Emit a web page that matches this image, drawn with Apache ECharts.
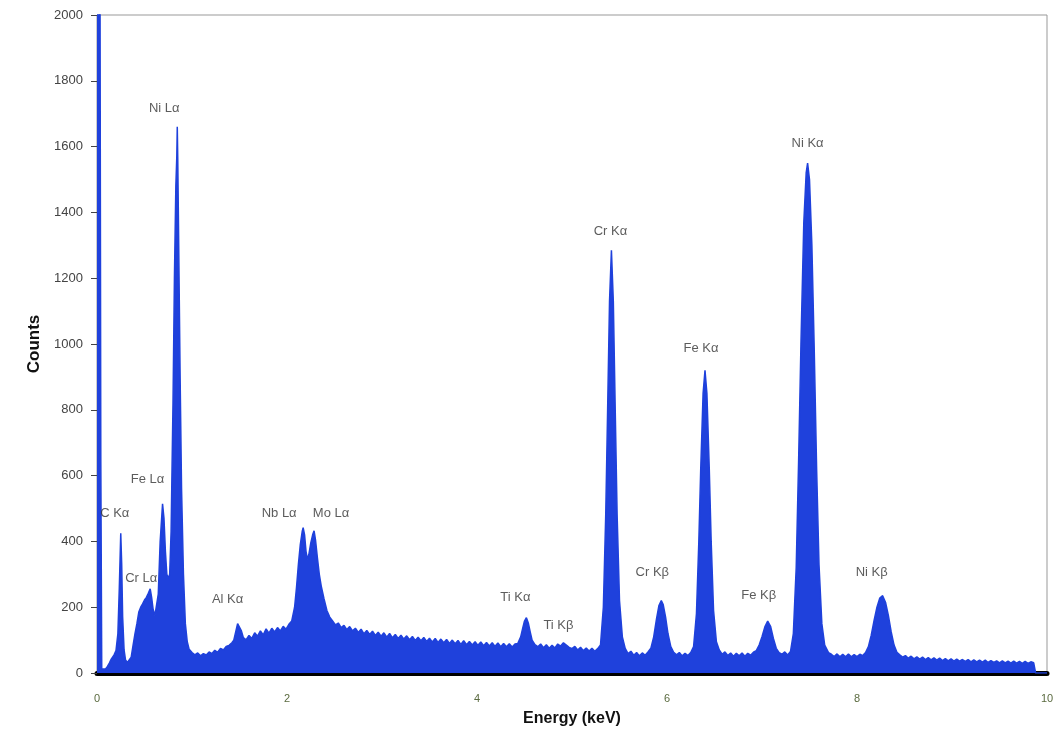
<!DOCTYPE html>
<html>
<head>
<meta charset="utf-8">
<script src="https://cdn.jsdelivr.net/npm/echarts@6/dist/echarts.min.js"></script>
<style>
html,body{margin:0;padding:0;background:#fff;}
#chart{width:1064px;height:733px;}
</style>
</head>
<body>
<div id="chart"></div>
<script>
// EDS spectrum: [energy keV, counts]
const spectrum = [
[0.00,2400],[0.03,2400],[0.04,650],[0.05,12],[0.07,6],[0.09,12],[0.11,20],[0.13,30],[0.15,42],[0.18,55],
[0.20,68],[0.22,120],[0.235,260],[0.25,425],[0.26,330],[0.27,170],[0.285,70],[0.30,40],[0.32,32],[0.34,38],
[0.36,48],[0.38,85],[0.40,120],[0.42,150],[0.44,185],[0.46,200],[0.48,210],[0.50,222],[0.52,230],[0.54,242],
[0.56,256],[0.575,230],[0.59,195],[0.61,175],[0.63,180],[0.645,240],[0.665,400],[0.69,514],[0.705,470],[0.72,370],
[0.735,300],[0.75,288],[0.765,300],[0.78,430],[0.80,820],[0.815,1200],[0.83,1480],[0.84,1570],[0.845,1660],[0.85,1565],
[0.86,1300],[0.875,900],[0.89,560],[0.91,300],[0.93,150],[0.95,95],[0.97,72],
[1.00,62],[1.03,55],[1.06,61],[1.09,52],[1.12,59],[1.15,55],[1.18,64],[1.21,59],[1.24,69],[1.27,63],
[1.30,75],[1.33,70],[1.36,81],[1.39,84],[1.42,92],[1.44,100],[1.46,125],[1.48,150],[1.50,145],[1.52,128],
[1.54,108],[1.57,101],[1.60,114],[1.63,105],[1.66,122],[1.69,112],[1.72,128],[1.75,116],[1.78,134],[1.81,121],
[1.84,136],[1.87,125],[1.90,138],[1.93,128],[1.96,142],[1.99,133],[2.02,148],[2.05,158],
[2.08,200],[2.10,260],[2.12,330],[2.14,390],[2.16,430],[2.17,442],[2.185,420],[2.20,370],[2.215,345],[2.23,360],
[2.25,395],[2.27,420],[2.285,432],[2.30,405],[2.32,350],[2.34,300],[2.36,265],[2.39,225],[2.42,190],[2.45,170],
[2.48,158],[2.51,146],[2.54,152],[2.57,138],[2.60,145],[2.63,132],[2.66,141],[2.69,128],
[2.72,136],[2.75,123],[2.78,133],[2.81,119],[2.84,129],[2.87,117],[2.90,127],[2.93,114],[2.96,124],[2.99,112],
[3.02,122],[3.05,109],[3.08,120],[3.11,107],[3.14,117],[3.17,105],[3.20,115],[3.23,103],[3.26,113],[3.29,101],
[3.32,111],[3.35,99],[3.38,109],[3.41,98],[3.44,108],[3.47,96],[3.50,106],[3.53,94],[3.56,105],[3.59,93],
[3.62,103],[3.65,92],[3.68,102],[3.71,90],[3.74,100],[3.77,89],[3.80,99],[3.83,87],[3.86,98],[3.89,86],
[3.92,96],[3.95,85],[3.98,95],[4.01,84],[4.04,94],[4.07,83],[4.10,93],[4.13,82],[4.16,92],[4.19,81],
[4.22,91],[4.25,80],[4.28,90],[4.31,80],[4.34,89],[4.37,79],[4.40,88],[4.43,90],
[4.46,110],[4.48,135],[4.50,158],[4.52,168],[4.54,152],[4.56,125],[4.58,100],[4.61,86],
[4.64,80],[4.67,88],[4.70,77],[4.73,86],[4.76,75],[4.79,84],[4.82,76],[4.85,88],[4.88,82],[4.91,92],
[4.94,85],[4.97,78],[5.00,74],[5.03,81],[5.06,70],[5.09,78],[5.12,68],[5.15,76],[5.18,67],[5.21,75],
[5.24,66],[5.27,74],
[5.30,85],[5.33,200],[5.355,480],[5.375,800],[5.395,1130],[5.415,1285],[5.435,1130],[5.455,800],[5.475,480],[5.50,220],
[5.53,110],[5.56,75],[5.59,59],[5.62,66],[5.65,54],[5.68,62],[5.71,52],[5.74,61],[5.77,54],[5.80,64],
[5.83,75],[5.86,110],[5.89,165],[5.915,205],[5.94,220],[5.96,208],[5.985,170],[6.01,120],[6.04,80],[6.07,63],
[6.10,55],[6.13,62],[6.16,52],[6.19,60],[6.22,53],[6.25,62],
[6.28,80],[6.31,180],[6.335,400],[6.355,620],[6.38,850],[6.40,920],[6.42,850],[6.445,620],[6.465,400],[6.49,190],
[6.52,95],[6.55,70],[6.58,57],[6.61,64],[6.64,53],[6.67,61],[6.70,51],[6.73,60],[6.76,52],[6.79,61],
[6.82,51],[6.85,60],[6.88,54],[6.91,63],[6.94,68],
[6.97,85],[7.00,110],[7.03,140],[7.06,158],[7.09,142],[7.12,105],[7.15,75],[7.18,62],[7.21,57],[7.24,64],
[7.27,55],
[7.30,65],[7.33,120],[7.36,320],[7.385,640],[7.41,1000],[7.44,1370],[7.465,1520],[7.48,1550],[7.50,1500],[7.525,1300],
[7.55,980],[7.575,620],[7.60,330],[7.63,150],[7.66,85],[7.70,62],
[7.73,57],[7.76,50],[7.79,58],[7.82,49],[7.85,57],[7.88,49],[7.91,58],[7.94,49],[7.97,56],[8.00,50],
[8.03,57],[8.06,53],[8.09,62],
[8.12,80],[8.15,115],[8.18,160],[8.21,200],[8.24,228],[8.27,235],[8.30,215],[8.33,175],[8.36,125],[8.39,85],
[8.42,63],
[8.45,55],[8.48,48],[8.51,53],[8.54,45],[8.57,51],[8.60,43],[8.63,49],[8.66,42],[8.69,48],[8.72,41],
[8.75,47],[8.78,40],[8.81,46],[8.84,39],[8.87,45],[8.90,38],[8.93,44],[8.96,37],[8.99,43],[9.02,36],
[9.05,42],[9.08,36],[9.11,41],[9.14,35],[9.17,41],[9.20,34],[9.23,40],[9.26,34],[9.29,39],[9.32,33],
[9.35,39],[9.38,32],[9.41,38],[9.44,32],[9.47,37],[9.50,31],[9.53,37],[9.56,31],[9.59,36],[9.62,30],
[9.65,36],[9.68,30],[9.71,35],[9.74,29],[9.77,35],[9.80,29],[9.83,34],[9.86,31],[9.87,30],[9.88,0],
[10.0,0]
];

// Peak labels
const peakNames    = ['C Kα','Cr Lα','Fe Lα','Ni Lα','Al Kα','Nb Lα','Mo Lα','Ti Kα','Ti Kβ','Cr Kα','Cr Kβ','Fe Kα','Fe Kβ','Ni Kα','Ni Kβ'];
const peakEnergies = [0.25, 0.56, 0.69, 0.845, 1.48, 2.17, 2.285, 4.52, 4.91, 5.415, 5.94, 6.40, 7.06, 7.48, 8.27];
const peakCounts   = [425, 256, 514, 1660, 150, 442, 432, 168, 90, 1285, 220, 920, 158, 1550, 235];
// label offsets in pixels (layout only)
const labelOffsets = [[-6,-20],[-9,-10],[-15,-24],[-13,-18],[-10,-24],[-24,-14],[17,-17],[-11,-20],[-5,-18],[-1,-19],[-9,-28],[-4,-22],[-9,-26],[0,-20],[-11,-23]];

const xTicks = [0,2,4,6,8,10];
const yTicks = [0,200,400,600,800,1000,1200,1400,1600,1800,2000];

const blue = '#1f41dc';
const font = 'Liberation Sans, Arial, sans-serif';

const chart = echarts.init(document.getElementById('chart'), null, {renderer:'canvas'});
chart.setOption({
  animation:false,
  backgroundColor:'#fff',
  grid:{left:97,right:17,top:15,bottom:60,show:true,borderColor:'#999',borderWidth:1,backgroundColor:'#fff'},
  xAxis:{
    type:'value',min:xTicks[0],max:xTicks[xTicks.length-1],interval:2,
    name:'Energy (keV)',nameLocation:'middle',nameGap:38,
    nameTextStyle:{fontFamily:font,fontSize:16,fontWeight:'bold',color:'#111'},
    axisLine:{show:true,onZero:false,lineStyle:{color:'#000',width:5}},
    axisTick:{show:false},
    splitLine:{show:false},
    axisLabel:{fontFamily:font,fontSize:11,color:'#5b6b40',margin:20,formatter:v=>String(v)}
  },
  yAxis:{
    type:'value',min:yTicks[0],max:yTicks[yTicks.length-1],interval:200,
    name:'Counts',nameLocation:'middle',nameGap:54,nameRotate:90,
    nameTextStyle:{fontFamily:font,fontSize:17,fontWeight:'bold',color:'#111'},
    axisLine:{show:false},
    axisTick:{show:true,length:6,lineStyle:{color:'#444'}},
    splitLine:{show:false},
    axisLabel:{fontFamily:font,fontSize:13,color:'#444',margin:14,formatter:v=>String(v)}
  },
  series:[
    {
      type:'line',data:spectrum,showSymbol:false,symbol:'none',clip:true,
      lineStyle:{color:blue,width:1.5},
      areaStyle:{color:blue,opacity:1},
      z:2
    },
    {
      type:'scatter',symbolSize:1,itemStyle:{color:'rgba(0,0,0,0)'},z:5,
      data:peakNames.map((n,i)=>({
        name:n,value:[peakEnergies[i],peakCounts[i]],
        label:{offset:labelOffsets[i]}
      })),
      label:{show:true,position:'inside',formatter:p=>p.name,fontFamily:font,fontSize:13,color:'#333'}
    }
  ]
});
</script>
</body>
</html>
